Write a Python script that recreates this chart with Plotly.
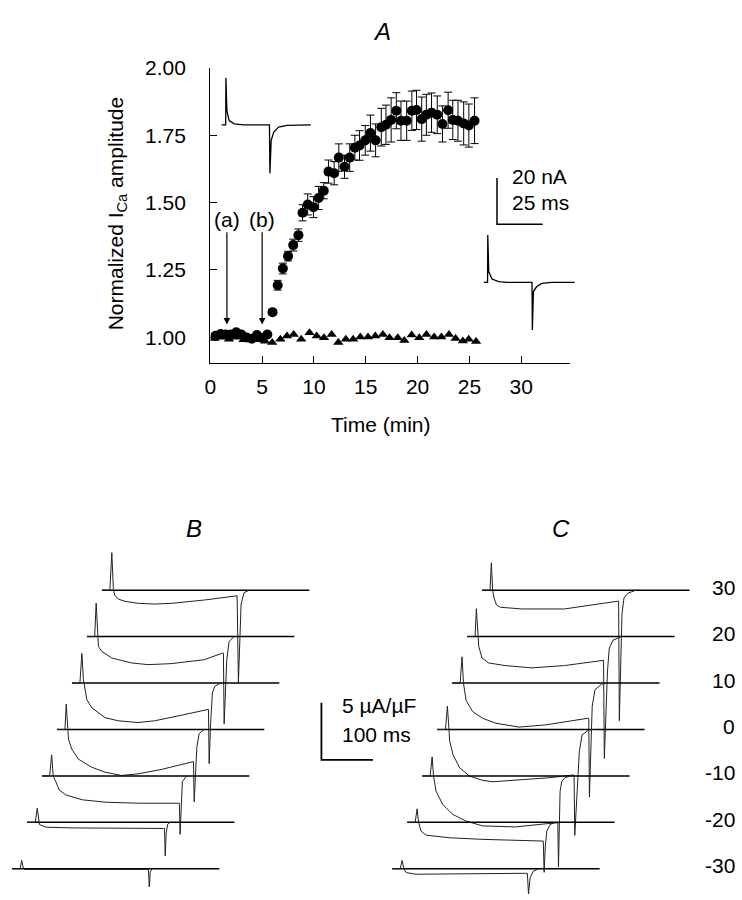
import plotly.graph_objects as go

W, H = 742, 900
FONT = "Liberation Sans, Arial, Helvetica, sans-serif"

# ---------------- Panel A: normalized I_Ca vs time ----------------
time_min = [0.5, 1.0, 1.5, 2.0, 2.5, 3.0, 3.5, 4.0, 4.5, 5.0, 5.5,
            6.0, 6.5, 7.0, 7.5, 8.0, 8.5, 8.9, 9.4, 9.95, 10.45, 10.95,
            11.4, 11.95, 12.4, 12.95, 13.45, 13.95, 14.4, 14.95, 15.45, 15.95,
            16.5, 16.95, 17.45, 17.95, 18.4, 18.95, 19.45, 19.9, 20.4, 20.85,
            21.35, 21.9, 22.4, 22.95, 23.4, 23.9, 24.45, 24.95, 25.5]
ica_norm = [1.005, 1.012, 1.010, 1.010, 1.018, 1.010, 0.999, 0.994, 1.008, 0.997, 1.010,
            1.093, 1.193, 1.255, 1.301, 1.342, 1.379, 1.462, 1.493, 1.483, 1.517, 1.544,
            1.615, 1.609, 1.667, 1.633, 1.667, 1.704, 1.712, 1.731, 1.758, 1.731,
            1.780, 1.789, 1.807, 1.841, 1.804, 1.804, 1.841, 1.844, 1.810, 1.826,
            1.834, 1.826, 1.792, 1.843, 1.807, 1.804, 1.794, 1.786, 1.804]
ica_sem = [0.008, 0.008, 0.008, 0.008, 0.008, 0.008, 0.008, 0.008, 0.008, 0.008, 0.008,
           0.010, 0.018, 0.020, 0.018, 0.022, 0.023, 0.030, 0.039, 0.039, 0.043, 0.030,
           0.043, 0.043, 0.051, 0.043, 0.051, 0.046, 0.055, 0.055, 0.067, 0.061,
           0.070, 0.073, 0.082, 0.067, 0.073, 0.073, 0.073, 0.073, 0.082, 0.076,
           0.073, 0.070, 0.067, 0.067, 0.073, 0.076, 0.080, 0.080, 0.085]

ctrl_time = [0.4, 1.1, 1.8, 2.5, 3.2, 3.9, 4.6, 5.3,
             5.97, 6.76, 7.4, 8.04, 8.77, 9.57, 10.27, 10.97, 11.71, 12.35,
             13.08, 13.78, 14.48, 15.22, 15.92, 16.65, 17.29, 18.09, 18.72, 19.43,
             20.16, 20.86, 21.6, 22.3, 23.03, 23.67, 24.37, 24.94, 25.65]
ctrl_norm = [0.995, 1.0, 0.992, 1.0, 0.99, 0.995, 0.99, 0.985,
             0.980, 0.992, 1.004, 1.010, 0.992, 1.016, 1.004, 0.998, 1.010, 0.980,
             0.992, 0.992, 1.001, 1.001, 1.004, 1.010, 0.998, 0.998, 0.988, 1.008,
             0.998, 1.010, 1.001, 1.001, 1.010, 0.995, 0.986, 0.992, 0.984]

a_xticks = [0, 5, 10, 15, 20, 25, 30]
a_yticks = [1.00, 1.25, 1.50, 1.75, 2.00]
arrow_times = [1.6, 5.0]
arrow_labels = ["(a)", "(b)"]

# Inset current traces of panel A (time in ms, current in nA)
inset_a_t = [0, 2.28, 2.39, 2.55, 2.93, 4.18, 6.9, 12.3, 26.25, 26.5, 27.2, 28.6, 31.3, 35.7, 42.2, 48.9]
inset_a_i = [0, 0, 20.4, 13.3, 6.13, 1.84, 0.43, 0, 0, -21.0, -6.73, -3.17, -1.03, -0.3, 0, 0]
inset_b_t = [0, 2.07, 2.17, 2.5, 2.72, 4.51, 8.15, 12.7, 26.4, 26.6, 27.2, 29.0, 31.7, 37.1, 49.8]
inset_b_i = [0, 0, 20.6, 8.14, 4.59, 1.41, 0.3, 0, 0, -20.7, -3.99, -1.84, -0.43, 0, 0]
scale_a_nA, scale_a_ms = 20, 25

# ---------------- Panels B and C: current families (ms, uA/uF) ----------------
voltages = [30, 20, 10, 0, -10, -20, -30]
sweep_ms = 402

b30_t = [15.4, 19.2, 22.3, 25.6, 31.9, 44.8, 70.4, 102.5, 134.6, 198.6, 259.6, 262.1, 264.6, 266.9, 269.8, 275.6, 285.2]
b30_i = [0, 3.28, 0, -0.49, -0.78, -0.97, -1.15, -1.21, -1.15, -0.86, -0.49, -0.49, -8.1, -4.66, -1.21, -0.22, 0]
b20_t = [15.0, 17.9, 20.4, 22.3, 28.8, 48.1, 86.5, 118.5, 163.5, 227.5, 262.7, 264.6, 266.0, 268.5, 271.1, 275.6, 285.2]
b20_i = [0, 2.93, 0, -0.86, -1.29, -1.87, -2.30, -2.45, -2.36, -2.02, -1.44, -1.44, -7.62, -4.03, -2.02, -0.43, 0]
b10_t = [15.4, 19.2, 22.3, 28.8, 38.5, 64.0, 89.6, 128.1, 160.2, 211.5, 262.7, 264.6, 266.0, 268.8, 272.3, 276.9, 288.5]
b10_i = [0, 2.59, 0.28, -1.44, -2.16, -3.02, -3.30, -3.45, -3.30, -2.82, -2.30, -2.30, -7.04, -3.45, -0.86, -0.28, 0]
b0_t = [15.4, 17.9, 20.8, 22.3, 28.8, 41.5, 67.3, 92.9, 125.0, 156.9, 201.9, 262.7, 264.6, 266.0, 268.5, 271.1, 275.6, 285.2]
b0_i = [0, 2.22, 0, -0.86, -1.72, -2.59, -3.30, -3.73, -4.02, -3.88, -3.50, -2.81, -2.81, -6.32, -3.73, -1.58, -0.37, 0]
bm10_t = [14.8, 18.7, 21.7, 26.9, 33.3, 46.2, 78.3, 123.1, 187.1, 264.0, 266.3, 267.7, 269.6, 272.1, 280.2]
bm10_i = [0, 1.84, 0, -0.52, -1.23, -1.66, -2.09, -2.30, -2.39, -2.39, -2.39, -5.11, -2.24, -0.52, 0]
bm20_t = [16.0, 19.8, 22.7, 24.2, 37.1, 88.5, 264.6, 266.5, 267.9, 269.8, 272.7, 277.5]
bm20_i = [0, 1.23, 0, -0.20, -0.43, -0.49, -0.54, -0.54, -2.93, -0.95, -0.17, 0]
bm30_t = [15.4, 18.7, 22.1, 24.0, 264.4, 266.0, 267.9, 271.2]
bm30_i = [0, 0.72, 0, -0.06, -0.06, -1.59, -0.32, 0]

c30_t = [15.4, 17.9, 20.4, 23.1, 27.9, 35.2, 76.9, 159.6, 211.5, 261.5, 264.6, 266.0, 268.3, 271.2, 275.0, 282.7, 298.0]
c30_i = [0, 2.39, 0, -0.69, -1.29, -1.49, -1.64, -1.64, -1.29, -0.95, -0.95, -11.4, -6.38, -2.07, -0.69, -0.26, 0]
c20_t = [15.4, 17.9, 20.4, 22.5, 28.8, 41.7, 73.7, 125.0, 189.0, 261.0, 264.4, 266.0, 269.2, 272.1, 275.6, 282.7, 298.0]
c20_i = [0, 2.44, 0, -0.86, -1.87, -2.30, -2.53, -2.73, -2.53, -2.07, -2.07, -10.64, -5.75, -2.99, -1.01, -0.32, 0]
c10_t = [15.4, 19.2, 21.9, 26.9, 39.8, 59.0, 84.6, 129.6, 180.8, 262.9, 264.8, 266.1, 268.6, 271.5, 276.9, 289.8, 301.0]
c10_i = [0, 2.29, 0, -1.50, -2.50, -3.08, -3.51, -3.85, -3.66, -3.08, -3.08, -9.97, -5.23, -2.04, -0.58, -0.10, 0]
c0_t = [16.0, 19.8, 22.5, 24.4, 30.8, 43.7, 62.9, 88.5, 107.7, 152.5, 216.7, 261.5, 265.4, 266.7, 269.2, 272.1, 275.6, 280.8, 293.6, 303.8]
c0_i = [0, 2.04, 0, -1.06, -2.21, -3.36, -4.08, -4.45, -4.57, -4.45, -4.22, -3.99, -3.99, -9.25, -7.09, -4.51, -1.92, -0.48, -0.05, 0]
cm10_t = [15.4, 19.2, 21.9, 26.9, 39.8, 59.0, 84.6, 116.7, 180.8, 232.1, 260.9, 262.9, 264.2, 265.8, 267.3, 270.6, 276.9, 289.8]
cm10_i = [0, 1.66, 0, -1.35, -2.50, -3.36, -3.94, -4.37, -4.46, -4.22, -4.09, -4.09, -7.97, -4.80, -1.35, -0.49, -0.15, 0]
cm20_t = [15.4, 19.2, 21.9, 26.9, 36.5, 81.5, 145.6, 263.8, 265.4, 267.7, 270.6, 276.9, 286.5]
cm20_i = [0, 1.18, 0, -0.78, -1.12, -1.35, -1.49, -1.64, -4.37, -2.07, -0.78, -0.20, 0]
cm30_t = [15.4, 19.2, 22.5, 26.9, 46.2, 257.7, 261.9, 264.2, 267.3, 273.8, 284.0]
cm30_i = [0, 0.72, 0, -0.34, -0.48, -0.40, -0.40, -2.21, -0.78, -0.20, 0]
scale_bc_uAuF, scale_bc_ms = 5, 100

# ---------------- layout constants (pixels) ----------------
A_X0, A_X1, A_Y0, A_Y1 = 206, 569, 56.7, 355.5      # panel A plot box
A_XRANGE = [0, 34.75]
A_YRANGE = [0.905, 2.0]
PXA_MS, PXA_NA = 1.84, 2.333        # inset scale: px per ms, px per nA
INSET_A_ORIGIN = (217.3, 114.3)
INSET_B_ORIGIN = (481.7, 274.0)
SCALE_A_CORNER = (495.0, 215.0)
PX_MS, PX_UAF = 0.52, 11.6          # panels B/C: px per ms, px per uA/uF
B_ORIGIN = (96.7, 586.0)
C_ORIGIN = (480.0, 586.0)
STEP = (-15.1, 47.05)
SCALE_BC_CORNER = (318.0, 758.0)


def px(x):
    return x / W


def py(y):
    return 1 - y / H


fig = go.Figure()

# ---- Panel A data
fig.add_trace(go.Scatter(
    x=ctrl_time, y=ctrl_norm, mode="markers",
    marker=dict(symbol="triangle-up", size=9, color="black"),
    xaxis="x", yaxis="y", showlegend=False))
fig.add_trace(go.Scatter(
    x=time_min, y=ica_norm, mode="markers",
    marker=dict(symbol="circle", size=10, color="black"),
    error_y=dict(type="data", array=ica_sem, visible=True, color="black", thickness=1, width=4),
    xaxis="x", yaxis="y", showlegend=False))

# ---- Panel A insets (ms / nA overlay axes)
def add_inset(ts, cur, origin):
    x0 = origin[0] / PXA_MS
    y0 = -origin[1] / PXA_NA
    fig.add_trace(go.Scatter(
        x=[x0 + t for t in ts], y=[y0 + c for c in cur], mode="lines",
        line=dict(color="black", width=1.3), xaxis="x2", yaxis="y2",
        showlegend=False, hoverinfo="skip"))


add_inset(inset_a_t, inset_a_i, INSET_A_ORIGIN)
add_inset(inset_b_t, inset_b_i, INSET_B_ORIGIN)
cx = SCALE_A_CORNER[0] / PXA_MS
cy = -SCALE_A_CORNER[1] / PXA_NA
fig.add_trace(go.Scatter(
    x=[cx, cx, cx + scale_a_ms], y=[cy + scale_a_nA, cy, cy], mode="lines",
    line=dict(color="black", width=1.5), xaxis="x2", yaxis="y2",
    showlegend=False, hoverinfo="skip"))

# ---- Panels B and C
b_traces = [(b30_t, b30_i), (b20_t, b20_i), (b10_t, b10_i), (b0_t, b0_i),
            (bm10_t, bm10_i), (bm20_t, bm20_i), (bm30_t, bm30_i)]
c_traces = [(c30_t, c30_i), (c20_t, c20_i), (c10_t, c10_i), (c0_t, c0_i),
            (cm10_t, cm10_i), (cm20_t, cm20_i), (cm30_t, cm30_i)]


def add_family(traces, origin):
    for k, (ts, cur) in enumerate(traces):
        x0 = (origin[0] + k * STEP[0]) / PX_MS
        y0 = -(origin[1] + k * STEP[1]) / PX_UAF
        fig.add_trace(go.Scatter(
            x=[x0, x0 + sweep_ms], y=[y0, y0], mode="lines",
            line=dict(color="black", width=1.5), xaxis="x3", yaxis="y3",
            showlegend=False, hoverinfo="skip"))
        fig.add_trace(go.Scatter(
            x=[x0] + [x0 + t for t in ts], y=[y0] + [y0 + c for c in cur], mode="lines",
            line=dict(color="#222", width=1.0), xaxis="x3", yaxis="y3",
            showlegend=False, hoverinfo="skip"))


add_family(b_traces, B_ORIGIN)
add_family(c_traces, C_ORIGIN)
sx = SCALE_BC_CORNER[0] / PX_MS
sy = -SCALE_BC_CORNER[1] / PX_UAF
fig.add_trace(go.Scatter(
    x=[sx, sx, sx + scale_bc_ms], y=[sy + scale_bc_uAuF, sy, sy], mode="lines",
    line=dict(color="black", width=1.8), xaxis="x3", yaxis="y3",
    showlegend=False, hoverinfo="skip"))

# ---- annotations
ann = []


def text(x, y, s, size=21, xanchor="center", **kw):
    ann.append(dict(x=px(x), y=py(y), xref="paper", yref="paper", text=s, showarrow=False,
                    xanchor=xanchor, yanchor="middle", font=dict(size=size, color="black", family=FONT), **kw))


text(379, 20, "<i>A</i>", size=24)
text(190, 523, "<i>B</i>", size=24)
text(560, 523, "<i>C</i>", size=24)
text(112, 204, "Normalized I<sub>Ca</sub> amplitude", textangle=-90)
text(378, 418, "Time (min)")
text(508, 167, f"{scale_a_nA} nA", xanchor="left")
text(508, 193, f"{scale_a_ms} ms", xanchor="left")
text(337, 703, f"{scale_bc_uAuF} \u00b5A/\u00b5F", xanchor="left")
text(337, 732, f"{scale_bc_ms} ms", xanchor="left")
for k, v in enumerate(voltages):
    text(737, B_ORIGIN[1] + k * STEP[1] - 3, str(v), xanchor="right")

tip_val = 1.047
tail_val = 1.438
for t, lab in zip(arrow_times, arrow_labels):
    ann.append(dict(x=t, y=tip_val, xref="x", yref="y", ax=t, ay=tail_val, axref="x", ayref="y",
                    text=lab, showarrow=True, arrowhead=2, arrowsize=1.1, arrowwidth=1.2,
                    arrowcolor="black", font=dict(size=21, color="black", family=FONT)))

axis_common = dict(showgrid=False, zeroline=False, showline=True, linecolor="black", linewidth=1.3,
                   ticks="inside", ticklen=7, tickwidth=1.2, tickcolor="black",
                   tickfont=dict(size=21, color="black", family=FONT))

fig.update_layout(
    width=W, height=H, margin=dict(l=0, r=0, t=0, b=0),
    paper_bgcolor="white", plot_bgcolor="rgba(0,0,0,0)",
    font=dict(family=FONT, color="black"),
    showlegend=False,
    xaxis=dict(domain=[px(A_X0), px(A_X1)], range=A_XRANGE, tickvals=a_xticks,
               anchor="y", ticklabelstandoff=5, **axis_common),
    yaxis=dict(domain=[py(A_Y1), py(A_Y0)], range=A_YRANGE, tickvals=a_yticks, tickformat=".2f",
               anchor="x", ticklabelstandoff=19, **axis_common),
    xaxis2=dict(domain=[0, 1], range=[0, W / PXA_MS], visible=False, anchor="y2"),
    yaxis2=dict(domain=[0, 1], range=[-H / PXA_NA, 0], visible=False, anchor="x2"),
    xaxis3=dict(domain=[0, 1], range=[0, W / PX_MS], visible=False, anchor="y3"),
    yaxis3=dict(domain=[0, 1], range=[-H / PX_UAF, 0], visible=False, anchor="x3"),
    annotations=ann,
)

post = ("document.documentElement.style.margin='0';document.body.style.margin='0';"
        "document.body.style.overflow='hidden';document.documentElement.style.overflow='hidden';"
        "var d=document.querySelector('.plotly-graph-div');"
        "d.style.position='fixed';d.style.left='0px';d.style.top='0px';")
fig.write_html("out.html", post_script=post, config={"displayModeBar": False})
